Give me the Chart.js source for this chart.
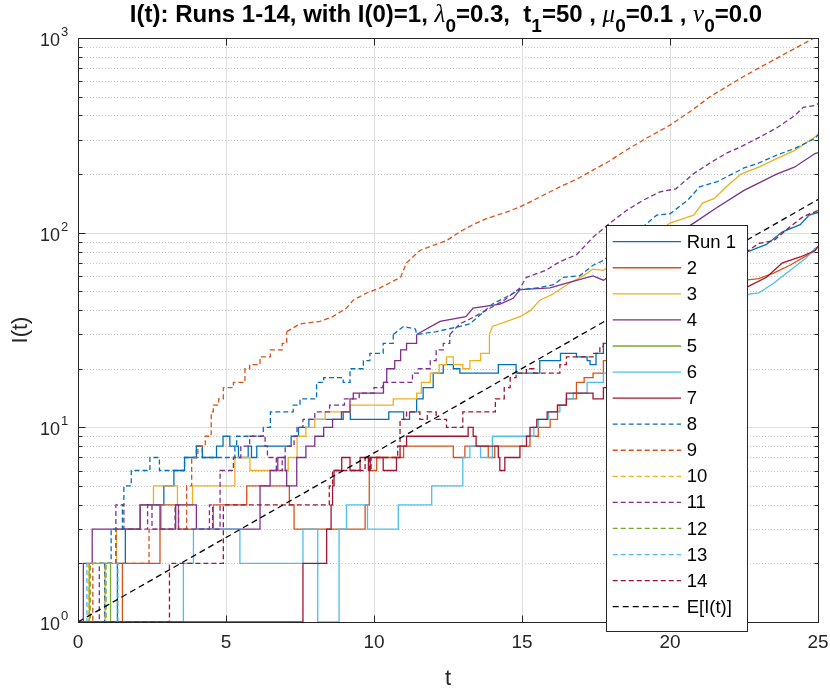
<!DOCTYPE html>
<html>
<head>
<meta charset="utf-8">
<script src="https://cdn.jsdelivr.net/npm/chart.js@4.4.1/dist/chart.umd.min.js"></script>
<style>
html, body { margin: 0; padding: 0; background: #fff; }
</style>
</head>
<body>
<canvas id="runsChart" width="830" height="688"></canvas>
<script>
// each run: [t, I] pairs, I is the value held from t until the next pair
var run1 = [[0,1],[1.33,2],[1.6,3],[2.1,4],[2.9,5],[3.24,6],[3.6,7],[4.0,8],[4.2,7],[4.68,8],[4.9,9],[5.13,8],[5.42,7],[5.75,8],[5.86,7],[6.04,8],[7.2,9],[7.45,10],[7.8,11],[8.96,12],[9.2,11],[10.5,12],[11.0,11],[11.2,12],[11.44,14],[11.66,16],[12.0,19],[12.34,21],[12.68,20],[12.9,19],[14.2,21],[14.8,19],[15.6,22],[16.3,24],[16.84,23],[17.2,22],[17.3,21],[17.5,24],[17.75,27],[22.55,79],[23.0,84],[23.26,87],[23.8,101],[24.4,110],[24.7,123],[25,127]];
var run2 = [[0,1],[1.5,2],[2.77,3],[2.8,4],[3.39,3],[4.57,4],[5.7,5],[7.14,4],[7.3,3],[9.7,4],[9.84,6],[10.09,7],[11.0,8],[12.68,7],[13.07,8],[13.86,7],[14.08,8],[15.27,9],[15.55,10],[15.95,11],[16.2,13],[16.5,14],[16.84,17],[17.1,18],[17.4,19],[17.75,22],[22.55,57],[23.0,58],[23.5,62],[24.05,68],[24.6,76],[24.9,81],[25,85]];
var run3 = [[0,1],[0.91,2],[1.3,3],[2.1,4],[2.55,5],[3.36,4],[3.87,5],[5.3,7],[5.81,6],[7.1,7],[7.4,9],[7.7,10],[8.0,11],[8.35,12],[9.2,13],[10.65,14],[11.44,15],[11.6,17],[11.9,19],[12.2,21],[12.45,23],[12.68,21],[13.0,20],[13.24,22],[13.6,24],[13.9,30],[14.0,33],[14.93,37],[15.3,40],[15.6,45],[16.0,48],[16.6,55],[17.07,60],[17.4,65],[17.75,64],[20.0,112],[20.8,123],[21.1,142],[21.5,150],[21.9,172],[22.4,200],[23.0,217],[23.6,240],[24.2,264],[24.9,310],[25,320]];
var run4 = [[0,1],[0.18,2],[0.48,3],[2.1,4],[2.77,3],[3.3,4],[4.0,3],[6.15,5],[6.49,6],[6.75,7],[7.0,6],[7.05,5],[7.39,7],[7.7,8],[8.0,9],[8.3,10],[8.6,11],[8.9,12],[9.19,14],[9.3,15],[10.32,17],[10.43,20],[10.7,22],[10.9,25],[11.1,27],[11.44,30],[12.23,35],[13.1,37],[13.35,41],[14.26,43],[14.7,46],[14.93,51],[15.95,52],[16.5,55],[17.4,60],[17.75,57],[20.8,112],[21.6,135],[22.5,165],[23.6,200],[24.2,217],[24.9,255],[25,258]];
var run5 = [[0,1],[0.38,2],[1.1,1]];
var run6 = [[0,1],[3.56,2],[3.9,3],[5.47,2],[7.6,3],[8.1,1],[8.82,3],[9.07,4],[9.78,3],[10.82,4],[11.95,5],[13.0,7],[13.24,8],[13.6,7],[14.0,9],[15.4,10],[15.55,11],[15.9,12],[16.28,13],[16.5,14],[16.73,15],[17.2,17],[17.75,19],[22.55,48],[23.0,49],[23.5,55],[24.05,64],[24.6,74],[24.9,83],[25,84]];
var run7 = [[0,1],[7.6,2],[8.4,3],[8.55,4],[8.6,5],[8.65,6],[8.91,7],[9.19,6],[9.53,7],[9.81,6],[9.87,7],[10.31,6],[10.76,7],[10.88,8],[11.1,9],[13.18,10],[13.35,9],[13.45,8],[14.2,7],[14.25,6],[14.42,7],[14.93,8],[15.15,9],[15.27,10],[15.5,11],[15.85,12],[16.2,13],[16.5,15],[17.4,14],[17.75,16],[22.55,52],[23.26,59],[23.8,70],[24.4,75],[24.9,81],[25,85]];
var run8 = [[0,1],[0.9,2],[1.12,3],[1.5,4],[1.55,5],[1.8,6],[2.43,7],[2.75,6],[3.6,7],[4.0,8],[4.2,7],[5.3,8],[5.36,9],[6.26,10],[6.5,12],[7.27,13],[7.5,14],[8.06,17],[8.3,18],[8.96,17],[9.19,20],[9.64,22],[9.86,24],[10.31,27],[10.65,30],[11.0,33],[11.4,32],[11.44,30],[12.1,31],[12.9,33],[13.24,34],[13.6,38],[14.0,43],[14.5,47],[14.93,51],[15.5,52],[16.06,54],[16.4,59],[16.95,60],[17.4,68],[17.75,72],[19.55,123],[20.0,125],[20.6,147],[21.0,172],[21.6,183],[21.9,193],[22.5,215],[23.0,228],[23.6,250],[24.2,270],[24.9,305],[25,318]];
var run9 = [[0,1],[0.5,2],[2.4,3],[3.67,5],[3.84,7],[4.05,8],[4.3,9],[4.5,12],[4.57,13],[4.75,14],[4.91,16],[5.25,17],[5.64,20],[5.8,21],[6.15,23],[6.5,25],[6.9,27],[7.05,31],[7.5,34],[8.17,35],[8.6,37],[9.07,41],[9.3,45],[9.75,49],[10.2,52],[10.9,59],[11.1,70],[11.55,81],[12.0,86],[12.45,91],[12.9,101],[13.35,110],[13.8,118],[14.5,128],[14.9,135],[15.4,147],[15.8,158],[16.28,172],[16.84,188],[17.41,210],[17.97,234],[18.53,266],[19.26,309],[20.0,357],[20.67,418],[21.35,499],[21.91,562],[22.47,632],[23.04,706],[23.6,786],[24.22,884],[24.84,995],[25,1000]];
var run10 = [[0,1],[0.35,2],[0.92,1]];
var run11 = [[0,1],[0.72,2],[1.28,4],[1.55,3],[2.35,4],[2.5,3],[3.28,4],[3.4,3],[4.44,4],[4.55,3],[4.8,6],[5.25,7],[5.5,8],[5.8,9],[6.32,8],[6.4,7],[6.7,6],[6.9,7],[7.0,8],[7.3,9],[7.4,10],[7.6,11],[8.0,12],[8.5,13],[9.0,14],[9.5,15],[10.0,16],[10.3,17],[11.3,19],[11.5,20],[11.9,22],[12.1,25],[12.34,27],[12.56,30],[12.9,34],[13.24,36],[13.8,40],[14.4,45],[14.93,52],[15.15,59],[15.8,64],[16.28,71],[16.84,77],[17.41,95],[17.97,112],[18.53,130],[19.1,147],[19.66,162],[20.2,168],[20.78,200],[21.35,228],[21.91,256],[22.47,280],[23.04,310],[23.6,345],[24.22,400],[24.5,440],[24.9,450],[25,460]];
var run12 = [[0,1],[0.42,2],[0.95,1]];
var run13 = [[0,1],[0.3,2],[1.35,1]];
var run14 = [[0,1],[3.09,2],[4.91,4],[8.49,5],[8.6,6],[9.7,7],[9.85,6],[9.9,7],[10.8,8],[10.88,11],[11.1,12],[11.55,11],[11.8,12],[12.1,11],[12.45,10],[13.0,12],[14.1,14],[14.4,16],[14.6,18],[14.8,19],[15.15,20],[15.4,19],[16.28,21],[16.5,23],[17.4,24],[17.63,26],[17.75,27],[22.55,79],[23.0,88],[23.5,91],[24.05,107],[24.5,121],[24.9,128],[25,130]];
// expected value line
var expT = [0, 25];
var expI = [1, 148];

var runLabels = ['Run 1', '2', '3', '4', '5', '6', '7', '8', '9', '10', '11', '12', '13', '14'];
var xTicks = [0, 5, 10, 15, 20, 25];
var yDecades = [0, 1, 2, 3];

var matlabColors = ['#0072BD', '#D95319', '#EDB120', '#7E2F8E', '#77AC30', '#4DBEEE', '#A2142F'];
var runs = [run1, run2, run3, run4, run5, run6, run7, run8, run9, run10, run11, run12, run13, run14];

// above this count single jumps are tiny, so the run is drawn as a plain polyline
var STEP_LIMIT = 30;

function toXY(arr) {
    return arr.map(function (p) { return {x: p[0], y: p[1]}; });
}

var datasets = [];
runs.forEach(function (r, i) {
    var style = {
        borderColor: matlabColors[i % 7],
        borderWidth: 1.3,
        borderDash: i >= 7 ? [5, 3] : [],
        pointRadius: 0,
        fill: false,
        order: 20 - i
    };
    var cut = r.findIndex(function (p) { return p[1] >= STEP_LIMIT; });
    var early = cut < 0 ? r : r.slice(0, cut + 1);
    datasets.push(Object.assign({label: runLabels[i], data: toXY(early), stepped: 'before', inLegend: true}, style));
    if (cut >= 0) {
        datasets.push(Object.assign({label: runLabels[i] + ' late', data: toXY(r.slice(cut)), stepped: false, inLegend: false}, style));
    }
});
datasets.push({
    label: 'E[I(t)]',
    data: expT.map(function (t, i) { return {x: t, y: expI[i]}; }),
    borderColor: '#000000',
    borderWidth: 1.3,
    borderDash: [6, 4],
    stepped: false,
    pointRadius: 0,
    fill: false,
    order: 0,
    inLegend: true
});

var AXC = '#262626';
var FONT = '"Liberation Sans", Arial, sans-serif';

function drawRich(ctx, parts, cx, baseY) {
    var w = 0;
    parts.forEach(function (p) {
        ctx.font = p.font;
        p.w = ctx.measureText(p.text).width;
        w += p.w;
    });
    var x = cx - w / 2;
    ctx.textAlign = 'left';
    ctx.textBaseline = 'alphabetic';
    parts.forEach(function (p) {
        ctx.font = p.font;
        ctx.fillText(p.text, x, baseY + (p.dy || 0));
        x += p.w;
    });
}

var matlabLook = {
    id: 'matlabLook',
    beforeDatasetsDraw: function (chart) {
        var ctx = chart.ctx, a = chart.chartArea, xs = chart.scales.x, ys = chart.scales.y;
        ctx.save();
        ctx.lineWidth = 1;
        // minor grid, dotted
        ctx.strokeStyle = '#c4c4c4';
        ctx.setLineDash([1, 2]);
        for (var d = 0; d < 3; d++) {
            for (var m = 2; m <= 9; m++) {
                var yy = Math.round(ys.getPixelForValue(m * Math.pow(10, d))) + 0.5;
                ctx.beginPath(); ctx.moveTo(a.left, yy); ctx.lineTo(a.right, yy); ctx.stroke();
            }
        }
        // major grid
        ctx.setLineDash([]);
        ctx.strokeStyle = '#dedede';
        xTicks.forEach(function (t) {
            var xx = Math.round(xs.getPixelForValue(t)) + 0.5;
            ctx.beginPath(); ctx.moveTo(xx, a.top); ctx.lineTo(xx, a.bottom); ctx.stroke();
        });
        yDecades.forEach(function (k) {
            var yy = Math.round(ys.getPixelForValue(Math.pow(10, k))) + 0.5;
            ctx.beginPath(); ctx.moveTo(a.left, yy); ctx.lineTo(a.right, yy); ctx.stroke();
        });
        ctx.restore();
    },
    afterDatasetsDraw: function (chart) {
        var ctx = chart.ctx, a = chart.chartArea, xs = chart.scales.x, ys = chart.scales.y;
        ctx.save();
        ctx.strokeStyle = AXC;
        ctx.fillStyle = AXC;
        ctx.lineWidth = 1;
        ctx.setLineDash([]);
        var L = Math.round(a.left) + 0.5, R = Math.round(a.right) + 0.5;
        var T = Math.round(a.top) + 0.5, B = Math.round(a.bottom) + 0.5;
        ctx.strokeRect(L, T, R - L, B - T);

        // ticks
        ctx.beginPath();
        xTicks.forEach(function (t) {
            var xx = Math.round(xs.getPixelForValue(t)) + 0.5;
            ctx.moveTo(xx, B); ctx.lineTo(xx, B - 7);
            ctx.moveTo(xx, T); ctx.lineTo(xx, T + 7);
        });
        for (var d = 0; d < 3; d++) {
            for (var m = 1; m <= 9; m++) {
                var yy = Math.round(ys.getPixelForValue(m * Math.pow(10, d))) + 0.5;
                var len = m === 1 ? 7 : 4;
                ctx.moveTo(L, yy); ctx.lineTo(L + len, yy);
                ctx.moveTo(R, yy); ctx.lineTo(R - len, yy);
            }
        }
        ctx.stroke();

        // tick labels
        ctx.font = '19px ' + FONT;
        ctx.textAlign = 'center';
        ctx.textBaseline = 'alphabetic';
        xTicks.forEach(function (t) {
            ctx.fillText(String(t), xs.getPixelForValue(t), a.bottom + 26);
        });
        yDecades.forEach(function (k) {
            var yy = ys.getPixelForValue(Math.pow(10, k));
            ctx.font = '18px ' + FONT;
            ctx.textAlign = 'right';
            ctx.fillText('10', 60, yy + 8);
            ctx.font = '13px ' + FONT;
            ctx.textAlign = 'left';
            ctx.fillText(String(k), 61, yy - 2);
        });

        // axis labels
        ctx.font = '22px ' + FONT;
        ctx.textAlign = 'center';
        ctx.fillText('t', (a.left + a.right) / 2, 685);
        ctx.save();
        ctx.translate(27, (a.top + a.bottom) / 2);
        ctx.rotate(-Math.PI / 2);
        ctx.fillText('I(t)', 0, 0);
        ctx.restore();

        // title
        ctx.fillStyle = '#000';
        var bf = 'bold 24px ' + FONT, gf = 'italic 25px "Liberation Serif", serif', sf = 'bold 19px ' + FONT;
        drawRich(ctx, [
            {text: 'I(t): Runs 1-14, with I(0)=1, ', font: bf},
            {text: '\u03bb', font: gf},
            {text: '0', font: sf, dy: 10},
            {text: '=0.3,  t', font: bf},
            {text: '1', font: sf, dy: 10},
            {text: '=50 , ', font: bf},
            {text: '\u03bc', font: gf},
            {text: '0', font: sf, dy: 10},
            {text: '=0.1 , ', font: bf},
            {text: '\u03bd', font: gf},
            {text: '0', font: sf, dy: 10},
            {text: '=0.0', font: bf}
        ], 446, 22);

        // legend box
        var lx = 606.5, ly = 225.5, lw = 141, lh = 406;
        ctx.fillStyle = '#ffffff';
        ctx.fillRect(lx, ly, lw, lh);
        ctx.strokeStyle = AXC;
        ctx.lineWidth = 1;
        ctx.strokeRect(lx, ly, lw, lh);
        ctx.font = '18.5px ' + FONT;
        ctx.textAlign = 'left';
        ctx.textBaseline = 'middle';
        chart.data.datasets.filter(function (ds) { return ds.inLegend; }).forEach(function (ds, i) {
            var ry = 241.7 + i * 26.07;
            ctx.strokeStyle = ds.borderColor;
            ctx.lineWidth = 1.3;
            ctx.setLineDash(ds.borderDash || []);
            ctx.beginPath(); ctx.moveTo(612.7, ry); ctx.lineTo(681, ry); ctx.stroke();
            ctx.setLineDash([]);
            ctx.fillStyle = '#000';
            ctx.fillText(ds.label, 686.7, ry + 1);
        });
        ctx.restore();
    }
};

new Chart(document.getElementById('runsChart'), {
    type: 'line',
    data: {datasets: datasets},
    options: {
        responsive: false,
        animation: false,
        devicePixelRatio: 1,
        layout: {padding: {left: 78, right: 12, top: 38, bottom: 66}},
        scales: {
            x: {type: 'linear', min: 0, max: 25, display: false},
            y: {type: 'logarithmic', min: 1, max: 1000, display: false}
        },
        plugins: {
            legend: {display: false},
            tooltip: {enabled: false}
        },
        elements: {line: {tension: 0}}
    },
    plugins: [matlabLook]
});
</script>
</body>
</html>
